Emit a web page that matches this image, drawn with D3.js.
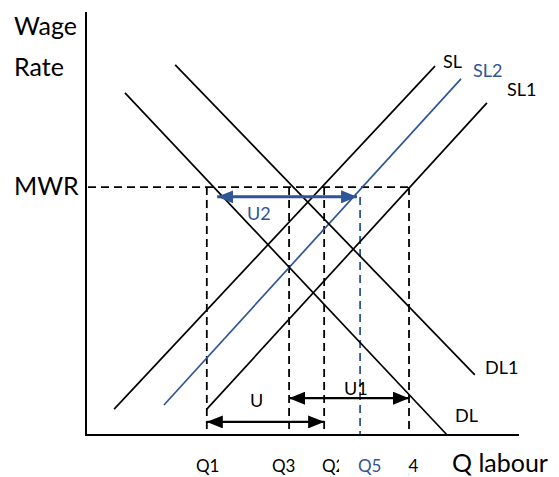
<!DOCTYPE html>
<html><head><meta charset="utf-8">
<script src="https://cdn.jsdelivr.net/npm/d3@7"></script>
<style>body{margin:0;background:#fff}svg{display:block}</style>
</head><body>
<svg id="c" width="559" height="477"></svg>
<script>
// Data (abstract units: quantity 0-100, wage 0-100)
const MWR = 58.6;
const qNames = ["Q1", "Q3", "Q2", "Q5", "Q4"];
const qValues = [27.9, 46.9, 55.0, 63.3, 74.6];
const curveNames = ["SL", "SL2", "SL1", "DL", "DL1"];
const curveStart = [[6.5, 6.1], [18.0, 7.1], [27.9, 6.1], [9.0, 80.9], [20.6, 87.5]];
const curveEnd = [[80.6, 87.2], [86.6, 84.2], [92.6, 78.5], [83.4, 0], [89.8, 14.2]];
const arrowNames = ["U2", "U", "U1"];
const arrowFrom = [[30.3, 56.3], [27.9, 3.1], [46.9, 8.7]];
const arrowTo = [[62.6, 56.3], [55.0, 3.1], [74.6, 8.7]];

const BLUE = "#2f5597";
const FONT = "Lato, 'Open Sans', sans-serif";
const svg = d3.select("#c");
const x = d3.scaleLinear().domain([0, 100]).range([86, 519]);
const y = d3.scaleLinear().domain([0, 100]).range([435, 12]);

const defs = svg.append("defs");
function marker(id, color) {
  defs.append("marker").attr("id", id).attr("markerUnits", "userSpaceOnUse")
    .attr("viewBox", "0 0 16 13").attr("refX", 16).attr("refY", 6.5)
    .attr("markerWidth", 16).attr("markerHeight", 13).attr("orient", "auto-start-reverse")
    .append("path").attr("d", "M0,0 L16,6.5 L0,13 Z").attr("fill", color);
}
marker("ab", "#000");
marker("au", BLUE);

// dashed guide lines
const dash = "8,5";
svg.append("line").attr("x1", x(0) + 2).attr("x2", x(qValues[4])).attr("y1", y(MWR)).attr("y2", y(MWR))
  .attr("stroke", "#000").attr("stroke-width", 1.8).attr("stroke-dasharray", dash);
qValues.forEach((q, i) => {
  const blue = qNames[i] === "Q5";
  svg.append("line").attr("x1", x(q)).attr("x2", x(q))
    .attr("y1", blue ? y(MWR) + 10 : y(MWR)).attr("y2", y(0))
    .attr("stroke", blue ? BLUE : "#000").attr("stroke-width", 1.8).attr("stroke-dasharray", dash);
});

// curves
curveNames.forEach((n, i) => {
  svg.append("line").attr("x1", x(curveStart[i][0])).attr("y1", y(curveStart[i][1]))
    .attr("x2", x(curveEnd[i][0])).attr("y2", y(curveEnd[i][1]))
    .attr("stroke", n === "SL2" ? BLUE : "#000").attr("stroke-width", 1.7);
});

// arrows
arrowNames.forEach((n, i) => {
  const blue = n === "U2";
  svg.append("line").attr("x1", x(arrowFrom[i][0])).attr("y1", y(arrowFrom[i][1]))
    .attr("x2", x(arrowTo[i][0])).attr("y2", y(arrowTo[i][1]))
    .attr("stroke", blue ? BLUE : "#000").attr("stroke-width", blue ? 3 : 2.2)
    .attr("marker-start", blue ? "url(#au)" : "url(#ab)")
    .attr("marker-end", blue ? "url(#au)" : "url(#ab)");
});

// axes
svg.append("line").attr("x1", x(0)).attr("x2", x(0)).attr("y1", y(100)).attr("y2", y(0))
  .attr("stroke", "#000").attr("stroke-width", 2);
svg.append("line").attr("x1", x(0) - 1).attr("x2", x(100)).attr("y1", y(0)).attr("y2", y(0))
  .attr("stroke", "#000").attr("stroke-width", 2);

function txt(s, px, py, size, color, anchor) {
  return svg.append("text").attr("x", px).attr("y", py).attr("font-family", FONT)
    .attr("font-size", size).attr("fill", color || "#000").attr("text-anchor", anchor || "start").text(s);
}
// axis titles
txt("Wage", 14, 35, 25);
txt("Rate", 14, 76, 25);
txt("MWR", 14, 195, 25);
txt("Q labour", 452, 472, 25);

// tick labels
const tickX = [196, 272, 322, 358, 395];
qNames.forEach((n, i) => {
  if (n === "Q5") return;
  txt(n, tickX[i], 472, 17);
});
svg.append("rect").attr("x", 339).attr("y", 452).attr("width", 69).attr("height", 26).attr("fill", "#fff");
txt("Q5", tickX[3], 472, 17, BLUE);

// curve labels
txt("SL", 443, 68, 18);
txt("SL2", 473, 77, 18, BLUE);
txt("SL1", 507, 96, 18);
txt("DL1", 485, 374, 18);
txt("DL", 455, 422, 18);

// arrow labels
txt("U2", 247, 220, 18, BLUE);
txt("U", 250, 407, 18);
txt("U1", 344, 395, 18);
</script>
</body></html>
